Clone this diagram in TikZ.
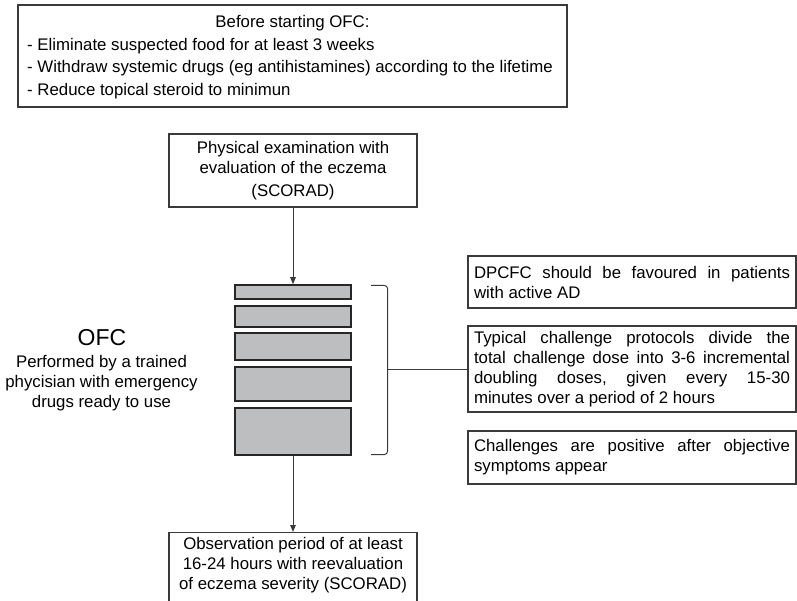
\documentclass[tikz,border=0pt]{standalone}
\usepackage{fontspec}
\setmainfont{Liberation Sans}
\usetikzlibrary{arrows.meta}
\definecolor{linec}{HTML}{3A3A3A}
\definecolor{barfill}{HTML}{BDBEC0}
\newcommand{\jl}[1]{\hbox to \hsize{\frenchspacing\spaceskip=0.278em plus 1fil\relax #1}}
\newcommand{\lastl}[1]{\hbox{#1}}
\begin{document}
\begin{tikzpicture}[x=1pt,y=-1pt,
  txt/.style={font=\fontsize{16.8}{20}\selectfont, text=black, inner sep=0pt},
  box/.style={txt, draw=linec, line width=1.2pt},
  bar/.style={draw=black!85, fill=barfill, line width=1.5pt, minimum width=116pt, inner sep=0pt},
  conn/.style={draw=linec, line width=1pt},
  arr/.style={conn, -{Triangle[length=7pt,width=5.5pt]}},
]
\useasboundingbox (0,0) rectangle (797,601);
\clip (0,0) rectangle (797,601);

% top box
\node[box, minimum width=549pt, minimum height=102pt] (pre) at (292.5,56) {};
\node[txt, anchor=base] (pret) at (292.5,28) {Before starting OFC:};
\node[txt, anchor=base west] (pre1) at (27,50.5) {- Eliminate suspected food for at least 3 weeks};
\node[txt, anchor=base west] (pre2) at (27,73) {- Withdraw systemic drugs (eg antihistamines) according to the lifetime};
\node[txt, anchor=base west] (pre3) at (27,95.5) {- Reduce topical steroid to minimun};

% physical examination
\node[box, minimum width=248pt, minimum height=73pt, align=center] (phys) at (293,170.5)
  {Physical examination with\\evaluation of the eczema\\[3pt](SCORAD)};

% bars
\node[bar, minimum height=14pt] (b1) at (293,292) {};
\node[bar, minimum height=21pt] (b2) at (293,316.5) {};
\node[bar, minimum height=27pt] (b3) at (293,346.5) {};
\node[bar, minimum height=34pt] (b4) at (293,384) {};
\node[bar, minimum height=47pt] (b5) at (293,431.5) {};

% OFC label
\node[txt, font=\fontsize{23}{26}\selectfont] (ofc) at (102,338) {OFC};
\node[txt, align=center] (ofcn) at (101.5,383.5) {Performed by a trained\\phycisian with emergency\\drugs ready to use};

% right boxes
\node[box, inner xsep=6pt, minimum width=328pt, minimum height=52pt] (r1) at (632,282)
  {\parbox{316pt}{\jl{DPCFC should be favoured in patients}\lastl{with active AD}}};
\node[box, inner xsep=6pt, minimum width=328pt, minimum height=86pt] (r2) at (632,369)
  {\parbox{316pt}{\jl{Typical challenge protocols divide the}\jl{total challenge dose into 3-6 incremental}\jl{doubling doses, given every 15-30}\lastl{minutes over a period of 2 hours}}};
\node[box, inner xsep=6pt, minimum width=328pt, minimum height=53pt] (r3) at (632,457.5)
  {\parbox{316pt}{\jl{Challenges are positive after objective}\lastl{symptoms appear}}};

% observation box (cut by the lower edge)
\node[box, anchor=north, minimum width=248pt, inner ysep=4.8pt, align=center] (obs) at (293,532)
  {Observation period of at least\\16-24 hours with reevaluation\\of eczema severity (SCORAD)\\\strut};

% connectors
\draw[arr] (phys.south) -- (b1.north);
\draw[arr] (b5.south) -- (obs.north);

% bracket
\coordinate (bt) at (371,285.5);
\coordinate (bb) at (371,454.5);
\coordinate (bx) at (387.5,0);
\draw[conn, rounded corners=3pt] (bt) -- (bt -| bx) -- (bb -| bx) -- (bb);
\draw[conn] (bx |- r2.west) -- (r2.west);
\end{tikzpicture}
\end{document}
